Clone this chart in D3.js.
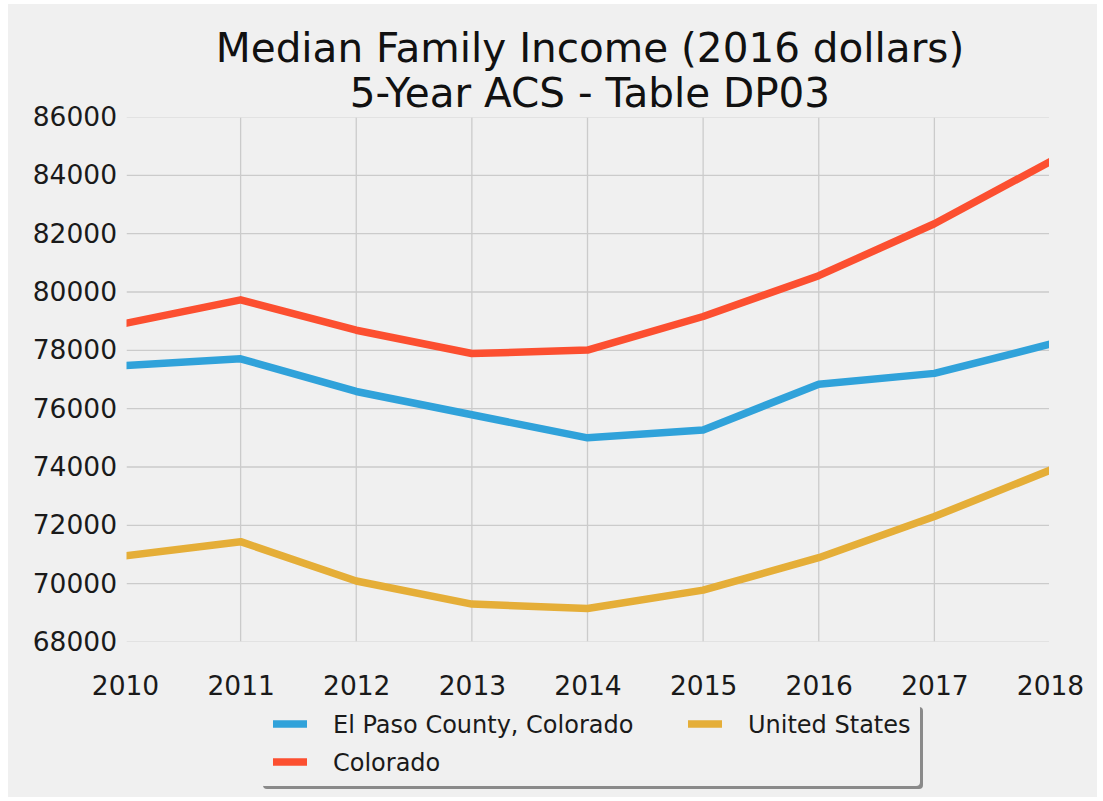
<!DOCTYPE html>
<html>
<head>
<meta charset="utf-8">
<script src="https://cdn.jsdelivr.net/npm/d3@7"></script>
<style>
  html, body { margin: 0; padding: 0; background: #ffffff; }
  svg { display: block; font-family: "DejaVu Sans", sans-serif; }
</style>
</head>
<body>
<svg id="chart" width="1103" height="801"></svg>
<script>
// ---- data ----
const years = [2010, 2011, 2012, 2013, 2014, 2015, 2016, 2017, 2018];
const elPaso = [77480, 77710, 76590, 75790, 75000, 75270, 76840, 77210, 78210];
const colorado = [78920, 79730, 78690, 77890, 78010, 79160, 80560, 82340, 84470];
const unitedStates = [70950, 71440, 70090, 69300, 69150, 69780, 70890, 72300, 73890];
const yTicks = [68000, 70000, 72000, 74000, 76000, 78000, 80000, 82000, 84000, 86000];
const seriesNames = ["El Paso County, Colorado", "Colorado", "United States"];
const seriesColors = ["#30a2da", "#fc4f30", "#e5ae38"];
const titleLines = ["Median Family Income (2016 dollars)", "5-Year ACS - Table DP03"];

const series = [
  { name: seriesNames[0], values: elPaso, color: seriesColors[0] },
  { name: seriesNames[1], values: colorado, color: seriesColors[1] },
  { name: seriesNames[2], values: unitedStates, color: seriesColors[2] }
];

const svg = d3.select("#chart");

// figure background
svg.append("rect").attr("x", 8).attr("y", 4).attr("width", 1089).attr("height", 793)
  .attr("fill", "#f0f0f0");

const plot = { left: 126.5, right: 1049, top: 117.5, bottom: 641.5 };
const x = d3.scaleLinear().domain([2010, 2018]).range([125, 1050]);
const y = d3.scaleLinear().domain([68000, 86000]).range([642, 117]);

svg.append("defs").append("clipPath").attr("id", "clip")
  .append("rect").attr("x", plot.left).attr("y", plot.top)
  .attr("width", plot.right - plot.left).attr("height", plot.bottom - plot.top);

const gridG = svg.append("g").attr("clip-path", "url(#clip)");
gridG.selectAll("line.vx").data(years).enter().append("line")
  .attr("x1", d => x(d)).attr("x2", d => x(d))
  .attr("y1", plot.top).attr("y2", plot.bottom)
  .attr("stroke", "#cbcbcb").attr("stroke-width", 1.3);
gridG.selectAll("line.hy").data(yTicks).enter().append("line")
  .attr("x1", plot.left).attr("x2", plot.right)
  .attr("y1", d => y(d)).attr("y2", d => y(d))
  .attr("stroke", "#cbcbcb").attr("stroke-width", 1.3);

const yAxis = d3.axisLeft(y).tickValues(yTicks).tickSize(0).tickPadding(0).tickFormat(d3.format("d"));
const yG = svg.append("g").attr("transform", "translate(117,0)").call(yAxis);
yG.select(".domain").remove();
yG.selectAll("text").attr("font-size", 26.5).attr("fill", "#1a1a1a").attr("font-family", "DejaVu Sans");

const xAxis = d3.axisBottom(x).tickValues(years).tickSize(0).tickPadding(0).tickFormat(d3.format("d"));
const xG = svg.append("g").attr("transform", "translate(0,676)").call(xAxis);
xG.select(".domain").remove();
xG.selectAll("text").attr("font-size", 26.5).attr("fill", "#1a1a1a").attr("font-family", "DejaVu Sans");

const line = d3.line().x((d, i) => x(years[i])).y(d => y(d));
const linesG = svg.append("g").attr("clip-path", "url(#clip)");
series.forEach(s => {
  linesG.append("path").datum(s.values)
    .attr("d", line)
    .attr("fill", "none")
    .attr("stroke", s.color)
    .attr("stroke-width", 7.5)
    .attr("stroke-linejoin", "round")
    .attr("stroke-linecap", "square");
});

const title = svg.append("text").attr("text-anchor", "middle").attr("font-size", 40.5)
  .attr("fill", "#111").attr("font-family", "DejaVu Sans");
titleLines.forEach((t, i) => {
  title.append("tspan").attr("x", 590).attr("y", 62 + i * 45).text(t);
});

const lg = svg.append("g");
lg.append("rect").attr("x", 263).attr("y", 707).attr("width", 660).attr("height", 82)
  .attr("rx", 4).attr("fill", "#8a8a8a");
lg.append("rect").attr("x", 260).attr("y", 704).attr("width", 660).attr("height", 82)
  .attr("rx", 4).attr("fill", "#f0f0f0");
const legendPos = [
  { hx: 273, ty: 724 },
  { hx: 273, ty: 762 },
  { hx: 688, ty: 724 }
];
series.forEach((s, i) => {
  const p = legendPos[i];
  lg.append("line").attr("x1", p.hx).attr("x2", p.hx + 34)
    .attr("y1", p.ty).attr("y2", p.ty)
    .attr("stroke", s.color).attr("stroke-width", 7.5);
  lg.append("text").attr("x", p.hx + 60).attr("y", p.ty).attr("dy", "0.36em")
    .attr("font-size", 24).attr("fill", "#1a1a1a").attr("font-family", "DejaVu Sans")
    .text(s.name);
});
</script>
</body>
</html>
